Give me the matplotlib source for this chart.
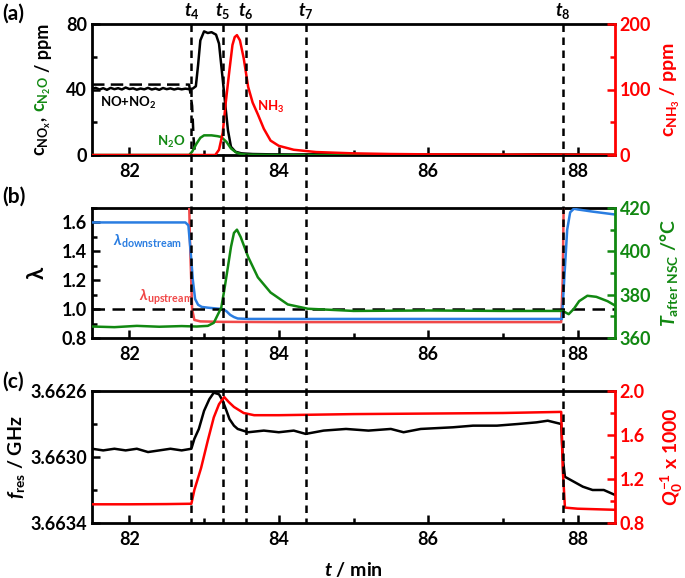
import matplotlib
matplotlib.use("Agg")
import matplotlib.pyplot as plt
from matplotlib.lines import Line2D
from matplotlib.ticker import MultipleLocator
import matplotlib.transforms as mtransforms

plt.rcParams['font.family'] = ['Lato', 'DejaVu Sans']
plt.rcParams['font.weight'] = 'bold'
plt.rcParams['axes.labelweight'] = 'bold'
plt.rcParams['mathtext.fontset'] = 'custom'
plt.rcParams['mathtext.rm'] = 'Lato:bold'
plt.rcParams['mathtext.it'] = 'Lato:italic:bold'
plt.rcParams['mathtext.bf'] = 'Lato:bold'
plt.rcParams['mathtext.fallback'] = 'stixsans'

RED = '#ff0000'
GREEN = '#118811'
BLUE = '#2a7de1'
LRED = '#f04848'

# event times (min)
t_events = [82.83, 83.25, 83.56, 84.36, 87.80]
t_names = ['4', '5', '6', '7', '8']

# ---- panel (a) ----
nox_t = [81.50, 81.55, 81.60, 81.65, 81.70, 81.75, 81.80, 81.85, 81.90, 81.95, 82.00, 82.05,
         82.10, 82.15, 82.20, 82.25, 82.30, 82.35, 82.40, 82.45, 82.50, 82.55, 82.60, 82.65,
         82.70, 82.75, 82.80, 82.85, 82.89, 82.92, 82.95, 83.00, 83.05, 83.10, 83.16, 83.20,
         83.25, 83.29, 83.32, 83.36, 83.42, 83.50, 83.65, 83.90, 84.20, 84.60, 85.00, 85.50,
         86.00, 86.50, 87.00, 87.50, 87.90, 88.20, 88.50]
nox_v = [40.5, 41.0, 40.0, 40.8, 39.8, 41.0, 40.2, 40.8, 40.0, 41.2, 40.3, 40.7,
         39.9, 40.6, 40.1, 41.0, 40.0, 40.6, 39.8, 40.9, 40.2, 40.7, 40.0, 40.6,
         40.1, 40.5, 40.2, 40.6, 42.0, 55.0, 70.0, 75.5, 74.5, 75.0, 73.5, 68.0,
         46.0, 28.0, 15.0, 5.0, 2.0, 1.0, 0.6, 0.4, 0.3, 0.5, 0.2, 0.4,
         0.2, 0.3, 0.1, 0.4, 0.3, 0.2, 0.1]
inlet_t = [81.50, 82.80, 82.84, 82.86, 82.88]
inlet_v = [43.0, 43.0, 30.0, 10.0, 0.0]
n2o_t = [81.50, 82.80, 82.84, 82.90, 82.95, 83.00, 83.10, 83.18, 83.23, 83.30, 83.36, 83.43,
         83.50, 83.60, 84.00, 88.50]
n2o_v = [0.0, 0.0, 2.0, 7.0, 10.5, 12.0, 12.0, 11.5, 11.0, 8.0, 4.0, 1.5,
         0.5, 0.2, 0.0, 0.0]
nh3_t = [81.50, 83.15, 83.20, 83.25, 83.29, 83.34, 83.38, 83.41, 83.44, 83.48, 83.53, 83.59,
         83.65, 83.72, 83.80, 83.89, 84.00, 84.20, 84.50, 85.00, 85.50, 86.00, 87.00, 88.50]
nh3_v = [0.0, 0.0, 8.0, 34.0, 80.0, 130.0, 168.0, 180.0, 183.0, 175.0, 148.0, 104.0,
         80.0, 62.0, 40.0, 22.0, 14.0, 8.0, 4.5, 2.5, 1.5, 1.0, 0.7, 0.5]

# ---- panel (b) ----
ldown_t = [81.50, 82.75, 82.79, 82.82, 82.85, 82.88, 82.92, 82.97, 83.05, 83.15, 83.25, 83.30,
           83.35, 83.40, 83.45, 83.60, 84.00, 85.00, 86.00, 87.00, 87.79, 87.82, 87.86, 87.90,
           87.95, 88.00, 88.20, 88.50]
ldown_v = [1.60, 1.60, 1.58, 1.40, 1.20, 1.07, 1.03, 1.015, 1.01, 1.005, 1.00, 0.985,
           0.96, 0.945, 0.935, 0.932, 0.932, 0.932, 0.932, 0.932, 0.932, 1.20, 1.55, 1.67,
           1.695, 1.69, 1.675, 1.655]
lup_t = [81.50, 82.79, 82.81, 82.84, 82.87, 82.95, 83.20, 84.00, 86.00, 87.78, 87.80, 87.82, 88.50]
lup_v = [2.0, 2.0, 1.50, 1.00, 0.925, 0.915, 0.912, 0.91, 0.91, 0.91, 1.20, 2.0, 2.0]
temp_t = [81.50, 81.80, 82.10, 82.40, 82.70, 82.90, 83.05, 83.13, 83.23, 83.27, 83.32, 83.36,
          83.40, 83.44, 83.49, 83.59, 83.72, 83.89, 84.12, 84.39, 84.70, 85.00, 86.00, 87.00,
          87.80, 87.88, 87.95, 88.02, 88.13, 88.25, 88.40, 88.50]
temp_v = [365.3, 365.0, 365.6, 365.2, 365.5, 365.3, 365.6, 367.0, 374.0, 382.0, 393.0, 402.0,
          408.5, 410.0, 406.6, 397.4, 388.0, 381.0, 375.5, 373.5, 373.0, 372.5, 372.7, 372.5,
          372.5, 371.0, 373.5, 377.0, 379.5, 379.0, 377.0, 375.0]

# ---- panel (c) ----
fres_t = [81.50, 81.65, 81.80, 81.95, 82.10, 82.25, 82.40, 82.55, 82.70, 82.83, 82.87, 82.93,
          83.00, 83.07, 83.13, 83.20, 83.25, 83.30, 83.34, 83.40, 83.45, 83.59, 83.80, 84.00,
          84.20, 84.36, 84.60, 84.90, 85.20, 85.50, 85.67, 85.90, 86.33, 86.60, 86.92, 87.20,
          87.45, 87.60, 87.78, 87.80, 87.83, 88.07, 88.20, 88.35, 88.50]
fres_v = [3.66295, 3.66296, 3.66295, 3.66296, 3.66295, 3.66297, 3.66296, 3.66295, 3.66296,
          3.66295, 3.66289, 3.66283, 3.66272, 3.66265, 3.66261, 3.66262, 3.66266, 3.66272,
          3.66277, 3.66281, 3.66283, 3.66285, 3.66284, 3.66285, 3.66284, 3.66286, 3.66284,
          3.66283, 3.66284, 3.66283, 3.66285, 3.66283, 3.66282, 3.66281, 3.66281, 3.66280,
          3.66279, 3.66278, 3.66280, 3.66300, 3.66312, 3.66318, 3.66320, 3.66320, 3.66323]
fres_ticks = [3.6626, 3.6630, 3.6634]
fres_minor = [3.6628, 3.6632]
q_t = [81.50, 82.00, 82.50, 82.83, 82.87, 82.96, 83.05, 83.13, 83.20, 83.27, 83.33, 83.40,
       83.53, 83.67, 84.00, 85.00, 86.00, 87.00, 87.78, 87.80, 87.83, 88.00, 88.50]
q_v = [0.970, 0.970, 0.972, 0.975, 1.10, 1.30, 1.55, 1.76, 1.88, 1.945, 1.90, 1.855,
       1.80, 1.78, 1.78, 1.79, 1.795, 1.80, 1.81, 1.30, 0.94, 0.93, 0.92]

W, H = 685, 578
fig = plt.figure(figsize=(W / 100, H / 100), dpi=100)

def px_axes(top, bottom):
    return fig.add_axes([92 / W, 1 - bottom / H, (615 - 92) / W, (bottom - top) / H])

ax_a = px_axes(24, 155)
ax_b = px_axes(208, 338)
ax_c = px_axes(391, 523)

LW = 1.8
FS = 13
RLAB_X = 1.083

def style(ax, axr, rcolor):
    for a in (ax, axr):
        a.set_xlim(81.5, 88.5)
        for s in a.spines.values():
            s.set_linewidth(2)
    ax.xaxis.set_major_locator(MultipleLocator(2))
    ax.xaxis.set_minor_locator(MultipleLocator(1))
    ax.tick_params(axis='both', which='both', direction='in', width=1.8, labelsize=FS)
    ax.tick_params(which='major', length=6)
    ax.tick_params(which='minor', length=3.5)
    ax.tick_params(axis='x', pad=6)
    axr.tick_params(axis='y', which='both', direction='in', width=1.8, colors=rcolor, labelsize=FS)
    axr.tick_params(which='major', length=6)
    axr.tick_params(which='minor', length=3.5)
    axr.spines['right'].set_color(rcolor)
    ax.spines['right'].set_visible(False)
    axr.spines['left'].set_visible(False)
    axr.spines['top'].set_visible(False)
    axr.spines['bottom'].set_visible(False)

# panel a
ar_a = ax_a.twinx()
ax_a.plot(nox_t, nox_v, color='black', lw=LW, zorder=3)
ax_a.plot(inlet_t, inlet_v, color='black', lw=LW, ls=(0, (5, 2.5)), zorder=3)
ax_a.plot(n2o_t, n2o_v, color=GREEN, lw=LW, zorder=3)
ar_a.plot(nh3_t, nh3_v, color=RED, lw=LW)
ax_a.set_ylim(0, 80)
ar_a.set_ylim(0, 200)
ax_a.yaxis.set_major_locator(MultipleLocator(40))
ax_a.yaxis.set_minor_locator(MultipleLocator(20))
ar_a.yaxis.set_major_locator(MultipleLocator(100))
ar_a.yaxis.set_minor_locator(MultipleLocator(50))
style(ax_a, ar_a, RED)
ar_a.set_ylabel(r'$\mathrm{c}_{\mathrm{NH_3}}$ / ppm', color=RED, fontsize=14)
ar_a.yaxis.set_label_coords(RLAB_X, 0.5)
ax_a.text(0.015, 0.40, r'NO+NO$_2$', transform=ax_a.transAxes, fontsize=9.5,
          color='black', va='center')
ax_a.text(0.124, 0.10, r'N$_2$O', transform=ax_a.transAxes, fontsize=9.5,
          color=GREEN, va='center')
ax_a.text(0.315, 0.37, r'NH$_3$', transform=ax_a.transAxes, fontsize=9.5,
          color=RED, va='center')

# panel b
ar_b = ax_b.twinx()
ax_b.axhline(1.0, color='black', lw=LW, ls=(0, (5, 3)), zorder=4)
ax_b.plot(lup_t, lup_v, color=LRED, lw=LW, zorder=3)
ax_b.plot(ldown_t, ldown_v, color=BLUE, lw=LW, zorder=3)
ar_b.plot(temp_t, temp_v, color=GREEN, lw=LW)
ax_b.set_ylim(0.8, 1.7)
ar_b.set_ylim(360, 420)
ax_b.yaxis.set_major_locator(MultipleLocator(0.2))
ax_b.yaxis.set_minor_locator(MultipleLocator(0.1))
ar_b.yaxis.set_major_locator(MultipleLocator(20))
ar_b.yaxis.set_minor_locator(MultipleLocator(10))
ax_b.yaxis.set_major_formatter(plt.FormatStrFormatter('%.1f'))
style(ax_b, ar_b, GREEN)
ax_b.set_ylabel('λ', fontsize=16)
ax_b.yaxis.set_label_coords(-0.085, 0.5)
ar_b.set_ylabel(r'$T_{\mathrm{after\ NSC}}$ /°C', color=GREEN, fontsize=14)
ar_b.yaxis.set_label_coords(RLAB_X, 0.5)
ax_b.text(0.04, 0.746, r'$\lambda_{\mathrm{downstream}}$', transform=ax_b.transAxes,
          fontsize=11, color=BLUE, va='center')
ax_b.text(0.09, 0.31, r'$\lambda_{\mathrm{upstream}}$', transform=ax_b.transAxes,
          fontsize=11, color=LRED, va='center')

# panel c
ar_c = ax_c.twinx()
ax_c.plot(fres_t, fres_v, color='black', lw=LW, zorder=3)
ar_c.plot(q_t, q_v, color=RED, lw=LW)
ax_c.set_ylim(3.6634, 3.6626)
ar_c.set_ylim(0.8, 2.0)
ax_c.set_yticks(fres_ticks)
ax_c.set_yticks(fres_minor, minor=True)
ax_c.yaxis.set_major_formatter(plt.FormatStrFormatter('%.4f'))
ar_c.yaxis.set_major_locator(MultipleLocator(0.4))
ar_c.yaxis.set_minor_locator(MultipleLocator(0.2))
ar_c.yaxis.set_major_formatter(plt.FormatStrFormatter('%.1f'))
style(ax_c, ar_c, RED)
ax_c.set_ylabel(r'$f_{\mathrm{res}}$ / GHz', fontsize=14)
ax_c.yaxis.set_label_coords(-0.125, 0.5)
ar_c.set_ylabel(r'$Q_0^{-1}$ x 1000', color=RED, fontsize=14)
ar_c.yaxis.set_label_coords(RLAB_X, 0.5)
ax_c.set_xlabel(r'$t$ / min', fontsize=14)
ax_c.xaxis.set_label_coords(0.5, -0.28)

# panels labels
for lab, y in (('(a)', 14), ('(b)', 197), ('(c)', 382)):
    fig.text(2 / W, 1 - y / H, lab, fontsize=15, va='center', ha='left')

# event lines across all panels
blend = mtransforms.blended_transform_factory(ax_c.transData, fig.transFigure)
for te, nm in zip(t_events, t_names):
    fig.add_artist(Line2D([te, te], [1 - 24 / H, 1 - 523 / H], transform=blend,
                          color='black', lw=1.8, ls=(0, (3, 2.2)), zorder=10))
    fig.text(te, 1 - 11 / H, r'$t_{%s}$' % nm, transform=blend, ha='center', va='center',
             fontsize=13)

# multi-coloured left label of panel a
pieces = [(r'$\mathrm{c}_{\mathrm{NO_x}}$,', 'black'),
          (r'$\mathrm{c}_{\mathrm{N_2O}}$', GREEN),
          (r'/ ppm', 'black')]
fig.canvas.draw()
rend = fig.canvas.get_renderer()
ybase = 1 - 156 / H
for txt, col in pieces:
    t = fig.text(43 / W, ybase, txt, rotation=90, ha='center', va='bottom',
                 color=col, fontsize=13)
    bb = t.get_window_extent(rend)
    ybase = bb.y1 / fig.dpi / fig.get_figheight() + 4 / H

fig.savefig('out.png', dpi=100)
